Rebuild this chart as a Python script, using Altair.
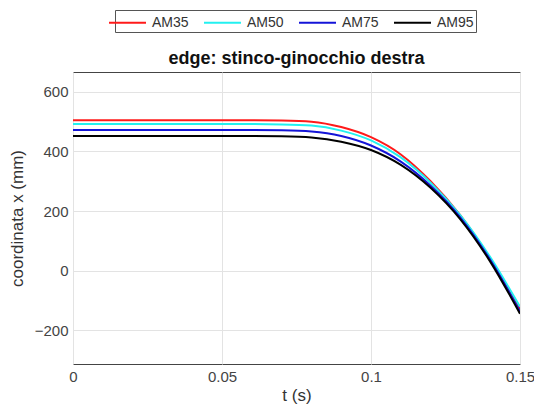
import altair as alt
import pandas as pd

t_vals = [0.0, 0.02, 0.04, 0.06, 0.07, 0.08, 0.09, 0.1, 0.11, 0.12, 0.13, 0.14, 0.15]
am35 = [505, 505, 505, 505, 504, 500, 482, 448, 390, 300, 185, 40, -130]
am50 = [492, 492, 492, 492, 491, 487, 470, 437, 380, 295, 185, 45, -122]
am75 = [472, 472, 472, 472, 471, 467, 452, 420, 366, 285, 178, 36, -138]
am95 = [452, 452, 452, 452, 451, 447, 433, 405, 355, 278, 172, 30, -145]
series = ["AM35", "AM50", "AM75", "AM95"]
colors = ["#ff1a1a", "#22f0f0", "#1414d8", "#000000"]

rows = []
for name, vals in zip(series, [am35, am50, am75, am95]):
    for t, v in zip(t_vals, vals):
        rows.append({"t": t, "x": v, "serie": name})
df = pd.DataFrame(rows)

font = "Liberation Sans"

chart = alt.Chart(df).mark_line(strokeWidth=2, interpolate="monotone", clip=True).encode(
    x=alt.X("t:Q", title="t (s)",
            scale=alt.Scale(domain=[0, 0.15], nice=False, zero=False),
            axis=alt.Axis(values=[0, 0.05, 0.1, 0.15], labelFlush=False,
                          labelExpr="datum.value == 0 ? '0' : format(datum.value, '~g')")),
    y=alt.Y("x:Q", title="coordinata x (mm)",
            scale=alt.Scale(domain=[-314, 667], nice=False, zero=False),
            axis=alt.Axis(values=[-200, 0, 200, 400, 600], labelFlush=False)),
    color=alt.Color("serie:N", scale=alt.Scale(domain=series, range=colors),
                    legend=alt.Legend(title=None, orient="none", legendX=42, legendY=-62,
                                      direction="horizontal", symbolType="M-2,0H2",
                                      symbolSize=342, symbolStrokeWidth=2,
                                      labelFontSize=14, labelFont=font, labelColor="#333333",
                                      labelOffset=14, columnPadding=11, padding=2,
                                      strokeColor="#555555", fillColor="white")),
    detail="serie:N",
).properties(
    width=447, height=292,
    title=alt.Title("edge: stinco-ginocchio destra", fontSize=18, font=font, fontWeight="bold",
                    color="#111111", anchor="middle", offset=0, dy=58),
    autosize=alt.AutoSizeParams(type="none"),
    padding={"left": 65, "top": 64, "right": 14, "bottom": 44},
).configure_view(
    stroke="#444444", strokeWidth=1
).configure_axis(
    grid=True, gridColor="#e3e3e3", gridWidth=1, domain=False,
    tickSize=0, labelPadding=5, labelFontSize=15, labelFont=font, labelColor="#444444",
    titleFontSize=17, titleFont=font, titleColor="#333333", titleFontWeight="normal",
).configure_axisY(titlePadding=8).configure_axisX(titlePadding=3)

chart.save("out.html", embed_options={"renderer": "svg", "actions": False})
